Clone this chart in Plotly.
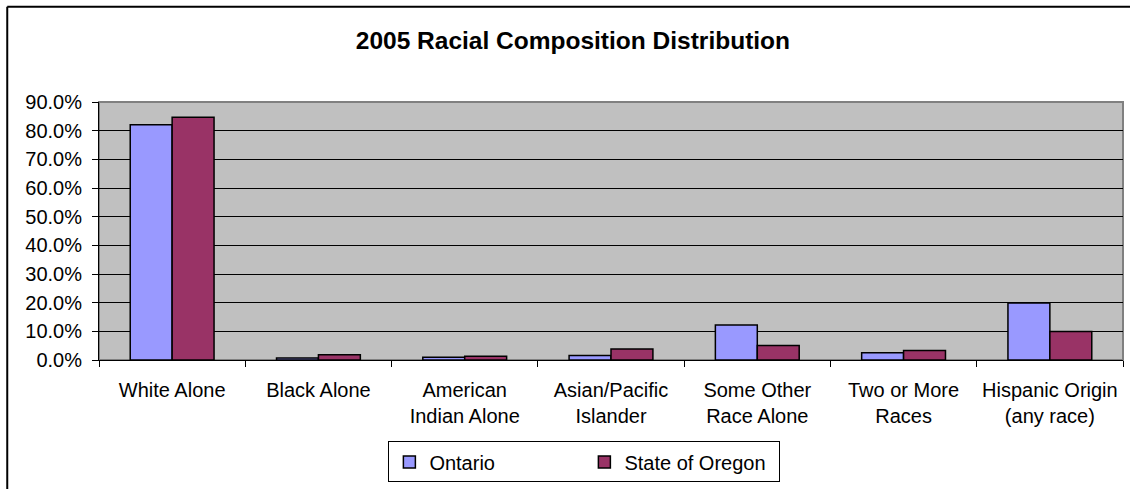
import plotly.graph_objects as go

categories = ["White Alone", "Black Alone", "American<br>Indian Alone", "Asian/Pacific<br>Islander",
              "Some Other<br>Race Alone", "Two or More<br>Races", "Hispanic Origin<br>(any race)"]
ontario = [0.821, 0.007, 0.010, 0.016, 0.122, 0.025, 0.199]
oregon = [0.847, 0.018, 0.013, 0.038, 0.051, 0.033, 0.099]
y_ticks = [0, 0.1, 0.2, 0.3, 0.4, 0.5, 0.6, 0.7, 0.8, 0.9]

FONT = "Liberation Sans, Arial, sans-serif"

fig = go.Figure()
fig.add_trace(go.Bar(x=categories, y=ontario, name="Ontario",
                     marker=dict(color="#9999FF", line=dict(color="black", width=1.5))))
fig.add_trace(go.Bar(x=categories, y=oregon, name="State of Oregon",
                     marker=dict(color="#993366", line=dict(color="black", width=1.5))))

fig.update_layout(
    width=1130, height=489,
    margin=dict(l=99, r=7, t=102, b=127),
    paper_bgcolor="white",
    plot_bgcolor="#C0C0C0",
    barmode="group", bargap=0.427, bargroupgap=0,
    font=dict(family=FONT, size=20, color="black"),
    title=dict(text="<b>2005 Racial Composition Distribution</b>", x=0.507, xanchor="center",
               y=0.918, yanchor="middle", font=dict(family=FONT, size=24.5, color="black")),
    showlegend=True,
    legend=dict(orientation="h", x=0.474, xanchor="center", y=-0.395, yanchor="middle",
                bordercolor="black", borderwidth=1, bgcolor="white",
                font=dict(family=FONT, size=20), itemwidth=30, entrywidth=150,
                tracegroupgap=0),
    xaxis=dict(showline=True, linecolor="black", linewidth=1, ticks="outside", ticklen=6,
               tickcolor="black", tickson="boundaries", showgrid=False,
               ticklabelstandoff=12,
               tickfont=dict(family=FONT, size=20)),
    yaxis=dict(range=[0, 0.9], tickvals=y_ticks, tickformat=".1%", showline=True,
               linecolor="black", linewidth=1, ticks="outside", ticklen=6, tickcolor="black",
               showgrid=True, gridcolor="black", gridwidth=1, zeroline=False,
               ticklabelstandoff=6,
               tickfont=dict(family=FONT, size=20)),
    shapes=[
        dict(type="rect", xref="paper", yref="paper", x0=0, x1=1, y0=0, y1=1,
             line=dict(color="#808080", width=2), layer="below"),
        dict(type="line", xref="paper", yref="paper", x0=-0.0896, x1=1.6, y0=1.369, y1=1.369,
             line=dict(color="black", width=2), layer="above"),
        dict(type="line", xref="paper", yref="paper", x0=-0.0896, x1=-0.0896, y0=-1.0, y1=1.369,
             line=dict(color="black", width=2), layer="above"),
    ],
)

fig.write_html("out.html")
